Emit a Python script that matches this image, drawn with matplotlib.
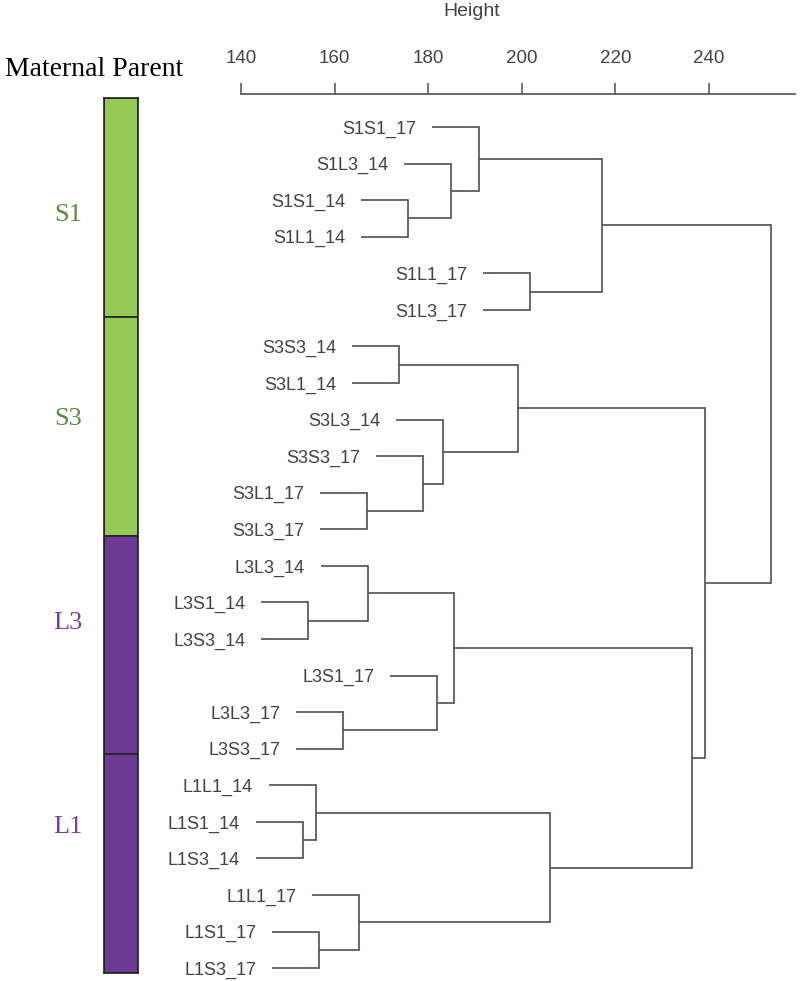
import numpy as np
import matplotlib.pyplot as plt
from matplotlib.transforms import blended_transform_factory

# DATA

# leaves in plotted order (top to bottom)
leaves = [
    "S1S1_17", "S1L3_14", "S1S1_14", "S1L1_14", "S1L1_17", "S1L3_17",
    "S3S3_14", "S3L1_14", "S3L3_14", "S3S3_17", "S3L1_17", "S3L3_17",
    "L3L3_14", "L3S1_14", "L3S3_14", "L3S1_17", "L3L3_17", "L3S3_17",
    "L1L1_14", "L1S1_14", "L1S3_14", "L1L1_17", "L1S1_17", "L1S3_17",
]

# merges: (child a, child b, height); ints refer to earlier merges
merges = [
    ("S1S1_14", "S1L1_14", 175.7),
    ("S1L3_14", 0, 184.9),
    ("S1S1_17", 1, 190.9),
    ("S1L1_17", "S1L3_17", 201.8),
    (2, 3, 217.1),
    ("S3S3_14", "S3L1_14", 173.8),
    ("S3L1_17", "S3L3_17", 166.9),
    ("S3S3_17", 6, 178.9),
    ("S3L3_14", 7, 183.2),
    (5, 8, 199.2),
    ("L3S1_14", "L3S3_14", 154.3),
    ("L3L3_14", 10, 167.1),
    ("L3L3_17", "L3S3_17", 161.8),
    ("L3S1_17", 12, 181.9),
    (11, 13, 185.5),
    ("L1S1_14", "L1S3_14", 153.2),
    ("L1L1_14", 15, 156.0),
    ("L1S1_17", "L1S3_17", 156.7),
    ("L1L1_17", 17, 165.2),
    (16, 18, 206.0),
    (14, 19, 236.4),
    (9, 20, 239.1),
    (4, 21, 253.2),
]

height_ticks = [140, 160, 180, 200, 220, 240]

groups = ["S1", "S3", "L3", "L1"]
group_sizes = [6, 6, 6, 6]

# STYLE

LINE = "#5a4c4c"
TEXT = "#4a3e3e"
bar_colors = ["#95c957", "#95c957", "#6c3a92", "#6c3a92"]
label_colors = ["#5b8a3c", "#5b8a3c", "#7a3f9e", "#7a3f9e"]
group_label_y = [3.2, 8.8, 14.4, 20.0]

all_h = [m[2] for m in merges]
hang = 0.1 * (max(all_h) - min(all_h))

# FIGURE

fig = plt.figure(figsize=(8, 9.81), dpi=100)
ax = fig.add_axes([0, 0, 1, 1])
ax.set_xlim(88.5, 259.45)
ax.set_ylim(23.352, -3.473)

node_y = {name: i for i, name in enumerate(leaves)}
node_h = {}

for k, (a, b, h) in enumerate(merges):
    for c in (a, b):
        if isinstance(c, str):
            start = h - hang
            ax.annotate(c, (start, node_y[c]), xytext=(-11.5, 0),
                        textcoords="offset points", ha="right",
                        va="center_baseline", fontsize=13,
                        family="Liberation Sans", color=TEXT)
        else:
            start = node_h[c]
        ax.plot([start, h], [node_y[c], node_y[c]], color=LINE, lw=1.2,
                solid_capstyle="butt")
    ax.plot([h, h], [node_y[a], node_y[b]], color=LINE, lw=1.2,
            solid_capstyle="projecting")
    node_y[k] = (node_y[a] + node_y[b]) / 2
    node_h[k] = h

# height axis on top
for s in ["left", "right", "bottom"]:
    ax.spines[s].set_visible(False)
ax.spines["top"].set_position(("data", -0.902))
ax.spines["top"].set_bounds(140, 258.4)
ax.spines["top"].set_color(LINE)
ax.spines["top"].set_linewidth(1.2)
ax.xaxis.tick_top()
ax.set_xticks(height_ticks)
ax.set_yticks([])
ax.tick_params(axis="x", direction="out", length=8, width=1.1, color=LINE,
               pad=11.5, labelsize=13.5, labelcolor=TEXT)
for t in ax.get_xticklabels():
    t.set_family("Liberation Sans")
ax.text(0.59, 1 - 12 / 981, "Height", transform=ax.transAxes, ha="center",
        va="center", fontsize=14, family="Liberation Sans", color=TEXT)

# maternal parent colour bar
ax2 = fig.add_axes([104 / 800, 8 / 981, 34 / 800, 875 / 981])
bottoms = np.concatenate([[0], np.cumsum(group_sizes)[:-1]])
ax2.bar(0, group_sizes, bottom=bottoms, width=1, color=bar_colors,
        edgecolor="#222222", linewidth=1.2)
ax2.set_xlim(-0.5, 0.5)
ax2.set_ylim(sum(group_sizes), 0)
ax2.set_xticks([])
ax2.set_yticks([])
for s in ax2.spines.values():
    s.set_color("#222222")
    s.set_linewidth(1.2)

tr = blended_transform_factory(ax2.transAxes, ax2.transData)
for g, yy, c in zip(groups, group_label_y, label_colors):
    ax2.text(-1.06, yy, g, transform=tr, ha="center", va="center",
             fontsize=19, family="Liberation Serif", color=c)

fig.text(94 / 800, 1 - 70 / 981, "Maternal Parent", ha="center", va="center",
         fontsize=20, family="Liberation Serif", color="black")

fig.savefig("out.png", dpi=100)
